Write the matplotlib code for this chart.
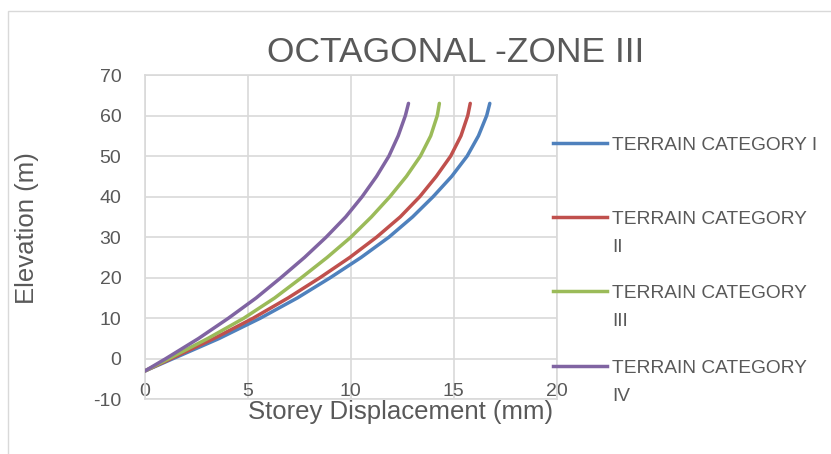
import matplotlib
matplotlib.use("Agg")
import matplotlib.pyplot as plt
from matplotlib.lines import Line2D
from matplotlib.patches import Rectangle

plt.rcParams['font.family'] = ['Liberation Sans', 'DejaVu Sans']
plt.rcParams['axes.unicode_minus'] = False

# elevation (m) and storey displacement (mm)
elevation = [-3, 0, 5, 10, 15, 20, 25, 30, 35, 40, 45, 50, 55, 60, 63]
terrain_1 = [0, 1.35, 3.6, 5.6, 7.4, 9.0, 10.5, 11.85, 13.0, 14.0, 14.9, 15.65, 16.2, 16.6, 16.75]
terrain_2 = [0, 1.25, 3.35, 5.25, 6.95, 8.5, 9.95, 11.25, 12.4, 13.35, 14.15, 14.85, 15.35, 15.68, 15.8]
terrain_3 = [0, 1.15, 3.05, 4.8, 6.3, 7.6, 8.85, 10.0, 11.0, 11.9, 12.7, 13.38, 13.88, 14.2, 14.3]
terrain_4 = [0, 1.0, 2.6, 4.05, 5.4, 6.6, 7.75, 8.8, 9.75, 10.55, 11.25, 11.85, 12.3, 12.65, 12.8]

series = [terrain_1, terrain_2, terrain_3, terrain_4]
labels = ["TERRAIN CATEGORY I", "TERRAIN CATEGORY\nII",
          "TERRAIN CATEGORY\nIII", "TERRAIN CATEGORY\nIV"]
colors = ['#4F81BD', '#C0504D', '#9BBB59', '#8064A2']

x_ticks = [0, 5, 10, 15, 20]
y_ticks = [-10, 0, 10, 20, 30, 40, 50, 60, 70]

W, H = 831, 454
text_col = '#595959'
grid_col = '#d9d9d9'

fig = plt.figure(figsize=(W / 100, H / 100), dpi=100)
fig.patches.append(Rectangle((8 / W, -0.1), 1.2, 1.1 - 11 / H, transform=fig.transFigure,
                             fill=False, edgecolor=grid_col, linewidth=1))

ax = fig.add_axes([145 / W, 1 - 399.3 / H, (556.7 - 145) / W, (399.3 - 75) / H])
for s, c in zip(series, colors):
    ax.plot(s, elevation, color=c, linewidth=2.5, solid_capstyle='round',
            solid_joinstyle='round', zorder=3)

ax.set_xlim(0, 20)
ax.set_ylim(-10, 70)
ax.set_xticks(x_ticks)
ax.set_yticks(y_ticks)
ax.grid(True, color=grid_col, linewidth=1.2)
ax.set_axisbelow(True)
for sp in ax.spines.values():
    sp.set_color(grid_col)
    sp.set_linewidth(1.2)
ax.tick_params(length=0, labelsize=14, labelcolor=text_col)
ax.tick_params(axis='y', pad=17)
ax.tick_params(axis='x', pad=-12)

fig.text(456 / W, 1 - 52 / H, "OCTAGONAL -ZONE III", fontsize=25.5, color=text_col,
         ha='center', va='center')
fig.text(401 / W, 1 - 419.5 / H, "Storey Displacement (mm)", fontsize=18.5, color=text_col,
         ha='center', va='baseline')
fig.text(27 / W, 1 - 228 / H, "Elevation (m)", fontsize=18.5, color=text_col,
         ha='center', va='center', rotation=90)

# legend on the right
leg_y = [143, 217, 291, 366]
for lab, c, y in zip(labels, colors, leg_y):
    fig.add_artist(Line2D([553 / W, 607 / W], [1 - y / H, 1 - y / H], color=c,
                          linewidth=2.5, transform=fig.transFigure))
    fig.text(612 / W, 1 - (y - 6) / H, lab, fontsize=13.8, color=text_col,
             ha='left', va='top', linespacing=1.85)

fig.savefig("out.png", dpi=100)
